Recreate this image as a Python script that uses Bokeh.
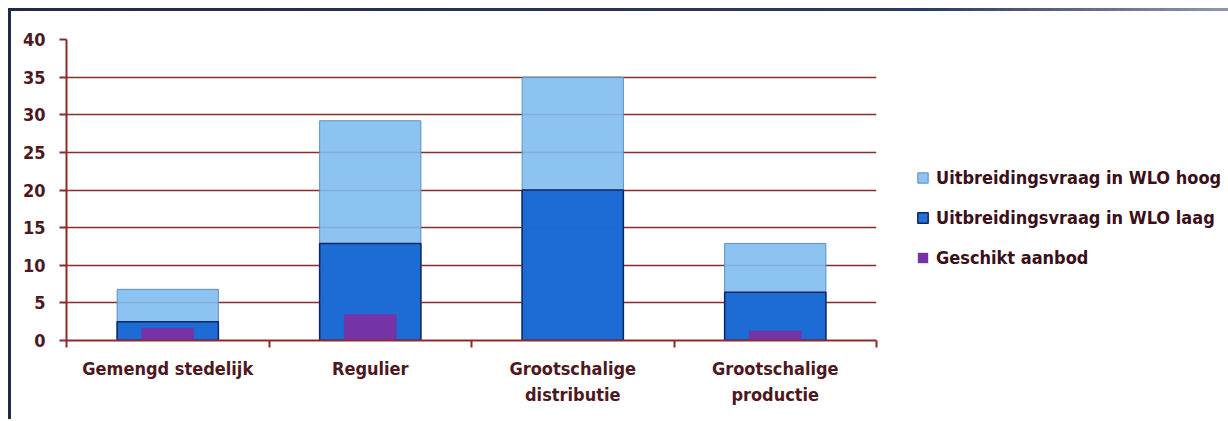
from bokeh.plotting import figure
from bokeh.models import (Range1d, FixedTicker, Legend, LegendItem, ColumnDataSource)
from bokeh.embed import file_html
from bokeh.resources import INLINE

categories = ["Gemengd stedelijk", "Regulier", "Grootschalige\ndistributie", "Grootschalige\nproductie"]
hoog = [6.8, 29.2, 35.0, 12.9]
laag = [2.5, 12.9, 20.0, 6.4]
aanbod = [1.7, 3.5, 0.0, 1.3]
y_ticks = [0, 5, 10, 15, 20, 25, 30, 35, 40]
series_names = ["Uitbreidingsvraag in WLO hoog", "Uitbreidingsvraag in WLO laag", "Geschikt aanbod"]

FONT = "DejaVu Sans Condensed, Liberation Sans Narrow, Roboto Condensed, Roboto"
MAROON = "#8c2b2b"
TEXT = "#4e1820"

n = len(categories)
centers = [i + 0.5 for i in range(n)]
edges = list(range(n + 1))

src = ColumnDataSource(dict(x=centers, cat=categories, hoog=hoog, laag=laag, aanbod=aanbod))

p = figure(x_range=Range1d(0, n), y_range=Range1d(0, 40),
           frame_width=810, frame_height=301,
           output_backend="svg", toolbar_location=None,
           min_border_left=55, min_border_right=0, min_border_top=28, min_border_bottom=79)
p.margin = (8, 0, 0, 8)
p.outline_line_color = None
p.background_fill_color = "white"
p.xgrid.visible = False
p.styles = {"border-top": "3px solid #1e2a4a", "border-left": "3px solid #1e2a4a",
            "border-image": "linear-gradient(to right, #1e2a4a 0%, #2a3a60 55%, #e8ecf2 90%, #ffffff 100%) 1"}

r_hoog = p.vbar(x="x", top="hoog", width=0.5, source=src, fill_color="#80bdee", fill_alpha=0.9,
                line_color="#5f8fbf", line_width=1)
r_laag = p.vbar(x="x", top="laag", width=0.5, source=src, fill_color="#1464d2", fill_alpha=0.93,
                line_color="#10275e", line_width=1.5)
r_aan = p.vbar(x="x", top="aanbod", width=0.26, source=src, fill_color="#7434a8",
               line_color=None)

# y axis
yax = p.yaxis[0]
yax.ticker = FixedTicker(ticks=y_ticks)
yax.axis_line_color = MAROON
yax.axis_line_width = 2
yax.major_tick_line_color = MAROON
yax.major_tick_line_width = 2
yax.major_tick_out = 7
yax.major_tick_in = 0
yax.minor_tick_line_color = None
yax.major_label_standoff = 14
yax.major_label_text_font = FONT
yax.major_label_text_font_style = "bold"
yax.major_label_text_font_size = "18px"
yax.major_label_text_color = TEXT

p.ygrid.ticker = FixedTicker(ticks=y_ticks)
p.ygrid.grid_line_color = MAROON
p.ygrid.grid_line_width = 1.6

# x axis: labels at category centres, tick marks (minor) at category edges
xax = p.xaxis[0]
xax.ticker = FixedTicker(ticks=centers, minor_ticks=edges)
xax.major_label_overrides = {c: name for c, name in zip(centers, categories)}
xax.axis_line_color = MAROON
xax.axis_line_width = 2
xax.major_tick_line_color = None
xax.major_tick_out = 0
xax.major_tick_in = 0
xax.minor_tick_line_color = MAROON
xax.minor_tick_line_width = 2
xax.minor_tick_out = 7
xax.minor_tick_in = 0
xax.major_label_standoff = 10
xax.major_label_text_font = FONT
xax.major_label_text_font_style = "bold"
xax.major_label_text_font_size = "18px"
xax.major_label_text_color = TEXT
xax.major_label_text_line_height = 1.25

legend = Legend(items=[LegendItem(label=series_names[0], renderers=[r_hoog]),
                       LegendItem(label=series_names[1], renderers=[r_laag]),
                       LegendItem(label=series_names[2], renderers=[r_aan])],
                location=(40, 72), orientation="vertical",
                glyph_width=13, glyph_height=13, label_standoff=7, label_height=20, spacing=19,
                padding=0, margin=0, border_line_color=None, background_fill_alpha=0,
                label_text_font=FONT, label_text_font_style="bold", label_text_font_size="18px",
                label_text_color="#3b0f18")
p.add_layout(legend, "right")

open("out.html", "w").write(file_html(p, INLINE))
